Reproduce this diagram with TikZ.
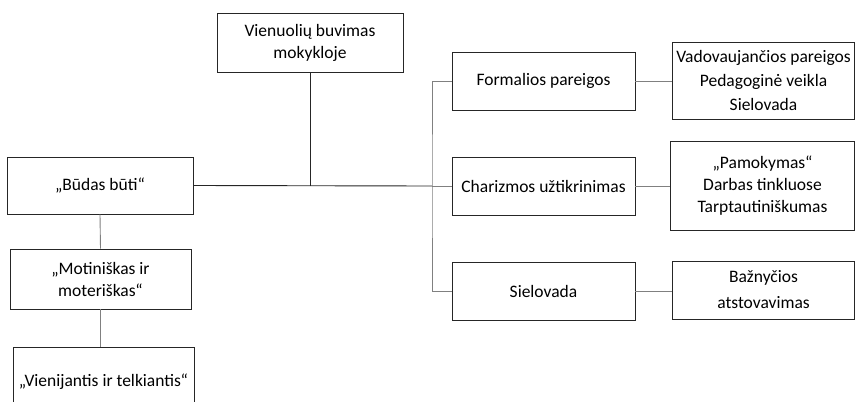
\documentclass[tikz,border=0pt]{standalone}
\usepackage{fontspec}
\setmainfont{Carlito}
\begin{document}
\begin{tikzpicture}[x=1pt,y=-1pt,
  box/.style={draw=black!85,line width=0.8pt,fill=white,inner sep=0pt,align=center,
    font=\fontsize{17.5}{22}\selectfont},
  link/.style={draw=black!50,line width=0.9pt},
  mainlink/.style={draw=black!85,line width=0.9pt}]
\useasboundingbox (0,0) rectangle (855,402);
% left column
\node[box,minimum width=186,minimum height=57] (budas) at (100,185.5) {„Būdas būti“};
\node[box,minimum width=181,minimum height=60] (motin) at (100.5,279) {„Motiniškas ir\\moteriškas“};
\node[box,minimum width=181,minimum height=70] (vien) at (103.5,382) {„Vienijantis ir telkiantis“};
% top box
\node[box,minimum width=186,minimum height=59] (top) at (310,42.5) {Vienuolių buvimas\\mokykloje};
% middle column
\node[box,minimum width=183,minimum height=58] (form) at (543.5,81) {Formalios pareigos};
\node[box,minimum width=183,minimum height=58] (char) at (543.5,186) {Charizmos užtikrinimas};
\node[box,minimum width=183,minimum height=58] (siel) at (543.5,291) {Sielovada};
% right column
\node[box,minimum width=182,minimum height=77,font=\fontsize{17.5}{24}\selectfont] (r1) at (763.5,80.5) {Vadovaujančios pareigos\\Pedagoginė veikla\\Sielovada};
\node[box,minimum width=184,minimum height=89] (r2) at (762.5,185.5) {„Pamokymas“\\Darbas tinkluose\\Tarptautiniškumas};
\node[box,minimum width=182,minimum height=58,font=\fontsize{17.5}{26}\selectfont] (r3) at (763.5,290) {Bažnyčios\\atstovavimas};
% bus coordinates
\coordinate (bus) at (432,186);
\coordinate (topjoin) at (310,186);
% connectors
\draw[link] (form.west) -| (bus) |- (siel.west);
\draw[link] (bus) -- (char.west);
\draw[mainlink] (budas.east) -- (bus);
\draw[mainlink] (top.south) -- (topjoin);
\draw[link] (form.east) -- (r1.west |- form.east);
\draw[link] (char.east) -- (r2.west |- char.east);
\draw[link] (siel.east) -- (r3.west |- siel.east);
\draw[link] (budas.south) -- (motin.north);
\draw[link] (motin.south) -- (motin.south |- vien.north);
\end{tikzpicture}
\end{document}
